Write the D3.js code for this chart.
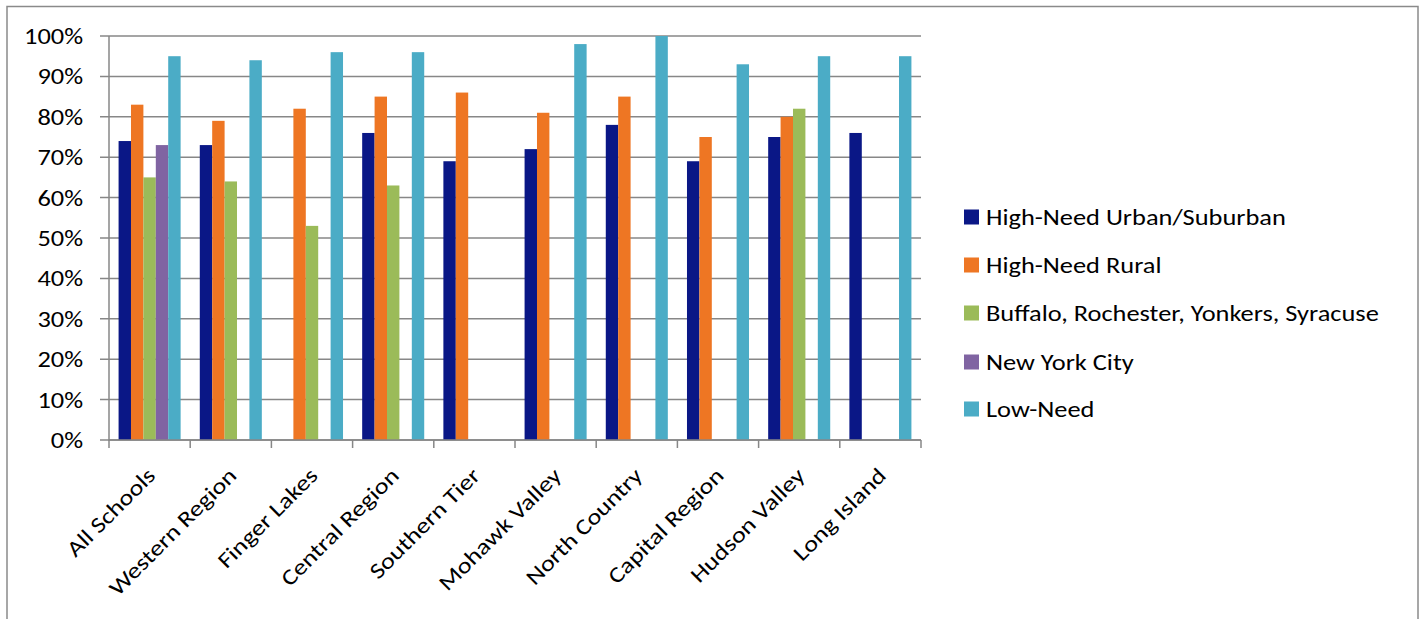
<!DOCTYPE html>
<html><head><meta charset="utf-8">
<script src="https://cdn.jsdelivr.net/npm/d3@7"></script>
<style>
html,body{margin:0;padding:0;background:#fff;}
svg text{font-family:Carlito,Lato,"Open Sans",sans-serif;fill:#000;}
</style></head>
<body>
<svg id="chart" width="1424" height="619"></svg>
<script>
const categories = ["All Schools","Western Region","Finger Lakes","Central Region","Southern Tier","Mohawk Valley","North Country","Capital Region","Hudson Valley","Long Island"];
const seriesNames = ["High-Need Urban/Suburban","High-Need Rural","Buffalo, Rochester, Yonkers, Syracuse","New York City","Low-Need"];
const highNeedUrban = [74,73,null,76,69,72,78,69,75,76];
const highNeedRural = [83,79,82,85,86,81,85,75,80,null];
const bigFour = [65,64,53,63,null,null,null,null,82,null];
const nyc = [73,null,null,null,null,null,null,null,null,null];
const lowNeed = [95,94,96,96,null,98,100,93,95,95];
const yTicks = [0,10,20,30,40,50,60,70,80,90,100];
const colors = ["#0A1786","#EE7623","#9BBB59","#8064A2","#4BACC6"];

const seriesValues = [highNeedUrban, highNeedRural, bigFour, nyc, lowNeed];
const svg = d3.select("#chart");
const fs = 22, sx = 1.2;

// outer frame
svg.append("rect").attr("x",7).attr("y",6.5).attr("width",1411).attr("height",640)
  .attr("fill","none").attr("stroke","#8a8a8a").attr("stroke-width",1.5);

const plot = {left:109, right:921, top:36, bottom:440};
const x = d3.scaleBand().domain(categories).range([plot.left, plot.right]).paddingInner(0).paddingOuter(0);
const y = d3.scaleLinear().domain([0,100]).range([plot.bottom, plot.top]);
const groupFrac = 0.764;
const xs = d3.scaleBand().domain(d3.range(seriesNames.length))
  .range([0, x.bandwidth()]).paddingOuter((1-groupFrac)/2/ (groupFrac/seriesNames.length)).paddingInner(0);

// gridlines
const gridColor = "#878787";
svg.append("g").selectAll("line").data(yTicks).join("line")
  .attr("x1", plot.left-9).attr("x2", plot.right)
  .attr("y1", d=>y(d)).attr("y2", d=>y(d))
  .attr("stroke", gridColor).attr("stroke-width",1.5);

// y-axis labels
svg.append("g").selectAll("text").data(yTicks).join("text")
  .attr("transform", d => `translate(83,${y(d)}) scale(${sx},1)`)
  .attr("dy","0.36em")
  .attr("text-anchor","end").style("font-size",fs+"px")
  .text(d=>d+"%");

// bars
const rows = [];
seriesValues.forEach((vals, si) => vals.forEach((v, ci) => { if (v != null) rows.push({si, ci, v}); }));
svg.append("g").selectAll("rect").data(rows).join("rect")
  .attr("x", d => x(categories[d.ci]) + xs(d.si))
  .attr("width", xs.bandwidth())
  .attr("y", d => y(d.v))
  .attr("height", d => y(0) - y(d.v))
  .attr("fill", d => colors[d.si]);

// axes lines
svg.append("line").attr("x1",plot.left).attr("x2",plot.left).attr("y1",plot.top).attr("y2",plot.bottom+1)
  .attr("stroke",gridColor).attr("stroke-width",1.5);
svg.append("line").attr("x1",plot.left).attr("x2",plot.right).attr("y1",plot.bottom).attr("y2",plot.bottom)
  .attr("stroke",gridColor).attr("stroke-width",1.5);
const tickXs = categories.map(c=>x(c)).concat([plot.right]);
svg.append("g").selectAll("line").data(tickXs).join("line")
  .attr("x1",d=>d).attr("x2",d=>d).attr("y1",plot.bottom).attr("y2",plot.bottom+8)
  .attr("stroke",gridColor).attr("stroke-width",1.5);

// x labels
svg.append("g").selectAll("text").data(categories).join("text")
  .attr("transform", c => `translate(${x(c)+x.bandwidth()/2+7},${plot.bottom+37}) rotate(-45) scale(${sx},1)`)
  .attr("text-anchor","end").style("font-size",fs+"px")
  .text(c=>c);

// legend
const lg = svg.append("g");
const legY = [217,265,313,362,409];
seriesNames.forEach((n,i)=>{
  lg.append("rect").attr("x",964).attr("y",legY[i]-7.5).attr("width",15).attr("height",15).attr("fill",colors[i]);
  lg.append("text").attr("transform",`translate(986,${legY[i]}) scale(${sx},1)`)
    .attr("dy","0.36em").style("font-size",fs+"px").text(n);
});
</script>
</body></html>
